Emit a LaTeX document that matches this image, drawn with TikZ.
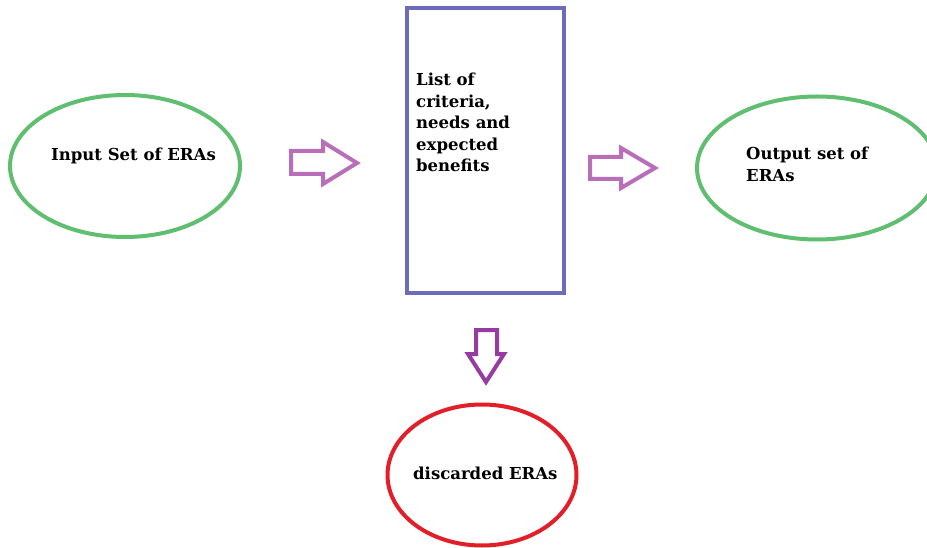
\documentclass[tikz,border=0pt]{standalone}
\usepackage{fontspec}
\setmainfont{DejaVu Serif}
\usetikzlibrary{shapes.geometric}
\definecolor{eragreen}{RGB}{95,190,112}
\definecolor{boxblue}{RGB}{108,108,184}
\definecolor{erared}{RGB}{226,30,40}
\definecolor{arrowpink}{RGB}{185,110,185}
\definecolor{arrowpurple}{RGB}{150,60,160}
\begin{document}
\begin{tikzpicture}[x=1pt,y=-1pt,
  setellipse/.style={ellipse, draw=#1, line width=4pt, inner sep=0pt},
  label/.style={font=\bfseries\fontsize{16.5}{21.5}\selectfont, anchor=north west, inner sep=0pt, align=left},
  blockarrow/.style={draw=#1, line width=4pt, line join=miter, fill=white}]
\useasboundingbox (0,0) rectangle (927,548);

% input, output and discarded sets
\node[setellipse=eragreen, minimum width=230pt, minimum height=142pt] (in) at (125,166) {};
\node[setellipse=eragreen, minimum width=240pt, minimum height=143pt] (out) at (817,168) {};
\node[setellipse=erared, minimum width=189pt, minimum height=141pt] (disc) at (482,475) {};

% filtering criteria box
\node[draw=boxblue, line width=4pt, minimum width=157pt, minimum height=285pt, inner sep=0pt] (crit) at (485.5,150.5) {};

% labels
\node[label] (inlab) at (51,148) {Input Set of ERAs};
\node[label] (outlab) at (746,147) {Output set of\\ERAs};
\node[label] (critlab) at (416,73) {List of\\criteria,\\needs and\\expected\\benefits};
\node[label] (disclab) at (413,467) {discarded ERAs};

% hollow block arrows between the stages
\draw[blockarrow=arrowpink] (291,151) -- (323,151) -- (323,142) -- (357,163) -- (323,184) -- (323,174) -- (291,174) -- cycle;
\draw[blockarrow=arrowpink] (590,157) -- (621,157) -- (621,148) -- (655,168) -- (621,188) -- (621,179) -- (590,179) -- cycle;
\draw[blockarrow=arrowpurple] (476,330) -- (497,330) -- (497,354) -- (504,354) -- (486,382) -- (468,354) -- (476,354) -- cycle;
\end{tikzpicture}
\end{document}
